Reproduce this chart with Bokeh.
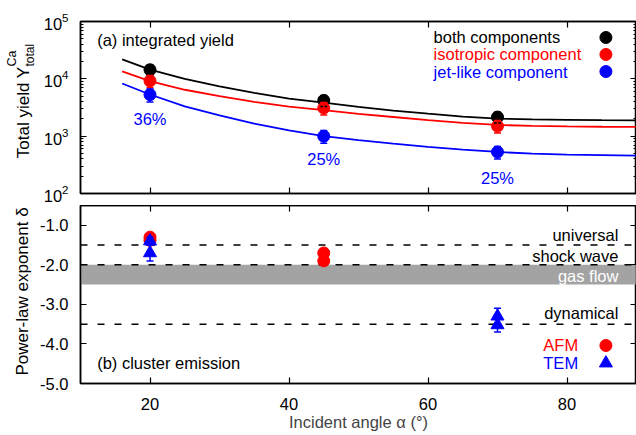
import math
from bokeh.plotting import figure
from bokeh.layouts import column, row
from bokeh.models import (Range1d, LogAxis, LinearAxis, FixedTicker, Label, Span,
                          BoxAnnotation, Whisker, TeeHead, ColumnDataSource,
                          PrintfTickFormatter)
from bokeh.core.properties import value
from bokeh.embed import file_html
from bokeh.resources import INLINE

FONT = "Liberation Sans"
FS = "16.5px"

# ---------------- (a) integrated yield ----------------
angles = [20, 45, 70]
both_yield = [1.44e4, 4.2e3, 2.15e3]
both_err = [3.0e3, 0.9e3, 0.45e3]
iso_yield = [9.2e3, 3.1e3, 1.5e3]
iso_err = [2.2e3, 0.75e3, 0.37e3]
jet_yield = [5.3e3, 1.0e3, 5.3e2]
jet_err = [1.35e3, 0.25e3, 1.3e2]
jet_share_text = ["36%", "25%", "25%"]
jet_share_y = [1990, 392, 190]

fit_x = [16, 20, 25, 30, 35, 40, 45, 50, 55, 60, 65, 70, 75, 80, 85, 90]
both_fit = [2.19e4, 1.45e4, 1.0e4, 7.4e3, 5.7e3, 4.5e3, 3.85e3, 3.25e3, 2.8e3,
            2.47e3, 2.2e3, 2.02e3, 1.96e3, 1.93e3, 1.9e3, 1.88e3]
iso_fit = [1.35e4, 9.1e3, 6.45e3, 5.0e3, 3.96e3, 3.27e3, 2.85e3, 2.45e3, 2.16e3,
           1.9e3, 1.7e3, 1.57e3, 1.51e3, 1.48e3, 1.46e3, 1.45e3]
jet_fit = [8.3e3, 5.33e3, 3.3e3, 2.3e3, 1.66e3, 1.26e3, 1.0e3, 850, 740,
           653, 582, 530, 495, 476, 466, 457]

yield_names = ["both components", "isotropic component", "jet-like component"]
yield_colors = ["black", "red", "blue"]
# legend placement (panel a): text x, key x, row y
legend_a_text_x = 60.8
legend_a_key_x = 85.6
legend_a_row_y = [5.26e4, 2.66e4, 1.34e4]

# ---------------- (b) cluster emission ----------------
afm_angle = [20, 20, 45, 45]
afm_delta = [-1.30, -1.38, -1.70, -1.90]
tem_angle = [20, 20, 70, 70]
tem_delta = [-1.40, -1.70, -3.30, -3.52]
tem_err = [0.10, 0.20, 0.20, 0.18]
model_names = ["universal", "shock wave", "dynamical"]
model_label_y = [-1.258, -1.782, -3.23]
model_delta = [-1.5, -2.0, -3.5]
gas_flow_band = [-2.5, -2.0]
legend_b_text_x = 81.6
legend_b_key_x = 85.6
legend_b_row_y = [-4.039, -4.486]

x_ticks = [20, 40, 60, 80]
log_ticks = [1e2, 1e3, 1e4, 1e5]
delta_ticks = [-1.0, -2.0, -3.0, -4.0, -5.0]


def style_axis(ax, labels=True):
    ax.major_tick_in = 6
    ax.major_tick_out = 0
    ax.minor_tick_in = 3
    ax.minor_tick_out = 0
    ax.axis_line_width = 1.5
    ax.major_tick_line_width = 1.2
    ax.minor_tick_line_width = 1
    ax.axis_line_color = "black"
    ax.major_tick_line_color = "black"
    ax.major_label_text_font = FONT
    ax.major_label_text_color = "black"
    if labels:
        ax.major_label_text_font_size = FS
    else:
        ax.major_label_text_font_size = "1px"
        ax.major_label_text_alpha = 0
        ax.major_label_standoff = 0


def lab(p, x, y, text, color="black", align="left", baseline="middle", angle=0.0, size=FS):
    p.add_layout(Label(x=x, y=y, text=text, text_color=color, text_align=align,
                       text_baseline=baseline, angle=angle, text_font=FONT,
                       text_font_size=size))


# ================= axis-title strip (left) =================
pt = figure(width=36, height=435, x_range=Range1d(0, 36), y_range=Range1d(435, 0),
            min_border=0, toolbar_location=None, x_axis_location=None,
            y_axis_location=None, output_backend="svg")
pt.grid.visible = False
pt.outline_line_color = None
lab(pt, 23, 66, "Total yield Y", align="right", angle=math.pi / 2, size="17px")
lab(pt, 11, 66, "Ca", align="left", angle=math.pi / 2, size="12.5px")
lab(pt, 29, 66, "total", align="left", angle=math.pi / 2, size="12px")
lab(pt, 22, 291, "Power-law exponent \u03b4", align="center", angle=math.pi / 2, size="17px")

# ================= top panel =================
p1 = figure(width=600, height=205, x_range=Range1d(10, 90), y_range=Range1d(1e2, 1e5),
            y_axis_type="log", min_border_left=44, min_border_right=0,
            min_border_top=21, min_border_bottom=12, toolbar_location=None,
            output_backend="svg")
p1.grid.visible = False
p1.outline_line_color = "black"
p1.outline_line_width = 1.5

minor_log = [m * 10 ** k for k in range(2, 5) for m in range(2, 10)]
log_ticker = FixedTicker(ticks=log_ticks, minor_ticks=minor_log)
x_ticker = FixedTicker(ticks=x_ticks, minor_ticks=[])

p1.yaxis.ticker = log_ticker
style_axis(p1.yaxis[0])
p1.yaxis.major_label_standoff = 12
p1.xaxis.ticker = x_ticker
style_axis(p1.xaxis[0], labels=False)
p1.xaxis.minor_tick_line_color = None

ax_r1 = LogAxis(ticker=log_ticker)
style_axis(ax_r1, labels=False)
p1.add_layout(ax_r1, "right")
ax_t1 = LinearAxis(ticker=x_ticker)
style_axis(ax_t1, labels=False)
ax_t1.minor_tick_line_color = None
p1.add_layout(ax_t1, "above")

fits = [both_fit, iso_fit, jet_fit]
ys = [both_yield, iso_yield, jet_yield]
errs = [both_err, iso_err, jet_err]
for fit, yv, ev, col in zip(fits, ys, errs, yield_colors):
    p1.line(fit_x, fit, line_color=col, line_width=1.8)
    src = ColumnDataSource(dict(x=angles, y=yv,
                                lo=[a - b for a, b in zip(yv, ev)],
                                hi=[a + b for a, b in zip(yv, ev)]))
    p1.add_layout(Whisker(source=src, base="x", lower="lo", upper="hi", dimension="height",
                          line_color=col, line_width=1.5, level="glyph",
                          lower_head=TeeHead(size=7, line_color=col, line_width=1.5),
                          upper_head=TeeHead(size=7, line_color=col, line_width=1.5)))
    p1.scatter("x", "y", source=src, marker="circle", size=12,
               fill_color=col, line_color=col)

p1.text(x=angles, y=jet_share_y, text=jet_share_text, text_color="blue",
        text_font=value(FONT), text_font_size=FS, text_align="center",
        text_baseline="middle")

lab(p1, 12.4, 4.67e4, "(a) integrated yield")
for name, col, yy in zip(yield_names, yield_colors, legend_a_row_y):
    lab(p1, legend_a_text_x, yy, name, color=col)
p1.scatter([legend_a_key_x] * 3, legend_a_row_y, marker="circle", size=12,
           fill_color=yield_colors, line_color=yield_colors)

# ================= bottom panel =================
p2 = figure(width=600, height=230, x_range=Range1d(10, 90), y_range=Range1d(-5, -0.5),
            min_border_left=44, min_border_right=0, min_border_top=0,
            min_border_bottom=52, toolbar_location=None, output_backend="svg")
p2.grid.visible = False
p2.outline_line_color = "black"
p2.outline_line_width = 1.5

d_ticker = FixedTicker(ticks=delta_ticks, minor_ticks=[])
p2.yaxis.ticker = d_ticker
style_axis(p2.yaxis[0])
p2.yaxis.formatter = PrintfTickFormatter(format="%.1f")
p2.yaxis.major_label_standoff = 12
p2.yaxis.minor_tick_line_color = None
p2.xaxis.ticker = x_ticker
style_axis(p2.xaxis[0])
p2.xaxis.minor_tick_line_color = None
p2.xaxis.major_label_standoff = 14
p2.xaxis.axis_label = "Incident angle \u03b1 (\u00b0)"
p2.xaxis.axis_label_text_font = FONT
p2.xaxis.axis_label_text_font_size = FS
p2.xaxis.axis_label_text_font_style = "normal"
p2.xaxis.axis_label_standoff = 0

ax_r2 = LinearAxis(ticker=d_ticker)
style_axis(ax_r2, labels=False)
ax_r2.minor_tick_line_color = None
p2.add_layout(ax_r2, "right")
ax_t2 = LinearAxis(ticker=x_ticker)
style_axis(ax_t2, labels=False)
ax_t2.minor_tick_line_color = None
p2.add_layout(ax_t2, "above")

p2.add_layout(BoxAnnotation(bottom=gas_flow_band[0], top=gas_flow_band[1],
                            fill_color="#a3a3a3", fill_alpha=1.0, line_color=None,
                            level="underlay"))
for d in model_delta:
    p2.add_layout(Span(location=d, dimension="width", line_color="black",
                       line_width=1.5, line_dash="7 10", level="underlay"))

src_tem = ColumnDataSource(dict(x=tem_angle, y=tem_delta,
                                lo=[a - b for a, b in zip(tem_delta, tem_err)],
                                hi=[a + b for a, b in zip(tem_delta, tem_err)]))
p2.add_layout(Whisker(source=src_tem, base="x", lower="lo", upper="hi", dimension="height",
                      line_color="blue", line_width=1.5, level="glyph",
                      lower_head=TeeHead(size=7, line_color="blue", line_width=1.5),
                      upper_head=TeeHead(size=7, line_color="blue", line_width=1.5)))
p2.scatter(afm_angle, afm_delta, marker="circle", size=12,
           fill_color="red", line_color="red")
p2.scatter("x", "y", source=src_tem, marker="triangle", size=13,
           fill_color="blue", line_color="blue")

for name, yy in zip(model_names, model_label_y):
    lab(p2, 87.4, yy, name, align="right")
lab(p2, 87.4, -2.287, "gas flow", color="white", align="right")
lab(p2, 12.4, -4.494, "(b) cluster emission")
lab(p2, legend_b_text_x, legend_b_row_y[0], "AFM", color="red", align="right")
lab(p2, legend_b_text_x, legend_b_row_y[1], "TEM", color="blue", align="right")
p2.scatter([legend_b_key_x], [legend_b_row_y[0]], marker="circle", size=12,
           fill_color="red", line_color="red")
p2.scatter([legend_b_key_x], [legend_b_row_y[1]], marker="triangle", size=13,
           fill_color="blue", line_color="blue")

layout = row(pt, column(p1, p2))
open("out.html", "w").write(file_html(layout, INLINE))
